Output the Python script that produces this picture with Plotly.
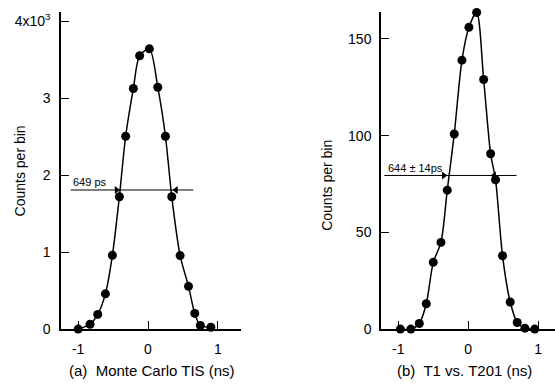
import plotly.graph_objects as go

# Panel (a): Monte Carlo TIS
a_time = [-1.00, -0.83, -0.72, -0.61, -0.51, -0.41, -0.32, -0.21, -0.12, 0.02,
          0.14, 0.25, 0.34, 0.46, 0.58, 0.67, 0.75, 0.90]
a_counts = [0, 64, 191, 458, 959, 1720, 2505, 3125, 3550, 3640,
            3142, 2505, 1720, 955, 556, 204, 47, 25]

# Panel (b): T1 vs. T201
b_time = [-0.97, -0.82, -0.70, -0.60, -0.50, -0.39, -0.30, -0.20, -0.09, 0.01,
          0.12, 0.22, 0.32, 0.39, 0.49, 0.60, 0.70, 0.81, 0.95]
b_counts = [0, 0, 2.9, 13.1, 34.5, 44.8, 71.8, 100.8, 139, 156,
            163.6, 129, 90.6, 77.2, 37.9, 14, 3.4, 0.5, 0]

a_yticks = [0, 1000, 2000, 3000, 4000]
a_yticktext = ["0", "1", "2", "3", "4x10<sup>3</sup>"]
b_yticks = [0, 50, 100, 150]
b_yticktext = ["0", "50", "100", "150"]
xticks = [-1, 0, 1]
xticktext = ["-1", "0", "1"]

# FWHM markers
a_fwhm_level = 1807
a_fwhm_span = [-1.107, 0.649]
a_fwhm_heads = [-0.45, 0.40]
a_fwhm_text = "649 ps"
b_fwhm_level = 79.4
b_fwhm_span = [-1.2, 0.69]
b_fwhm_heads = [-0.35, 0.37]
b_fwhm_text = "644 \u00b1 14ps"

FONT = "Liberation Sans"

fig = go.Figure()
fig.add_trace(go.Scatter(x=a_time, y=a_counts, mode="lines+markers",
                         line=dict(color="black", width=1.5, shape="spline", smoothing=0.8),
                         marker=dict(color="black", size=9),
                         cliponaxis=False, xaxis="x", yaxis="y", showlegend=False))
fig.add_trace(go.Scatter(x=b_time, y=b_counts, mode="lines+markers",
                         line=dict(color="black", width=1.5, shape="spline", smoothing=0.8),
                         marker=dict(color="black", size=9),
                         cliponaxis=False, xaxis="x2", yaxis="y2", showlegend=False))

# FWHM lines with arrowheads
fig.add_trace(go.Scatter(x=a_fwhm_span, y=[a_fwhm_level] * 2, mode="lines",
                         line=dict(color="black", width=1), xaxis="x", yaxis="y",
                         showlegend=False, hoverinfo="skip"))
fig.add_trace(go.Scatter(x=a_fwhm_heads, y=[a_fwhm_level] * 2, mode="markers",
                         marker=dict(color="black", size=7,
                                     symbol=["triangle-right", "triangle-left"]),
                         xaxis="x", yaxis="y", showlegend=False, hoverinfo="skip"))
fig.add_trace(go.Scatter(x=b_fwhm_span, y=[b_fwhm_level] * 2, mode="lines",
                         line=dict(color="black", width=1), xaxis="x2", yaxis="y2",
                         showlegend=False, hoverinfo="skip"))
fig.add_trace(go.Scatter(x=b_fwhm_heads, y=[b_fwhm_level] * 2, mode="markers",
                         marker=dict(color="black", size=7,
                                     symbol=["triangle-right", "triangle-left"]),
                         xaxis="x2", yaxis="y2", showlegend=False, hoverinfo="skip"))

axcommon = dict(showline=True, linecolor="black", linewidth=1.5, ticks="inside",
                ticklen=8, tickwidth=1.2, tickcolor="black", showgrid=False,
                zeroline=False, tickfont=dict(family=FONT, size=14, color="black"))

ytop = 1 - 12 / 391
ybot = 1 - 336 / 391
fig.update_layout(
    width=555, height=391, margin=dict(l=0, r=0, t=0, b=0),
    paper_bgcolor="white", plot_bgcolor="white",
    font=dict(family=FONT, color="black"),
    xaxis=dict(domain=[61 / 555, 241 / 555], range=[-1.246, 1.332], tickvals=xticks,
               ticktext=xticktext, anchor="y", ticklabelstandoff=6, **axcommon),
    yaxis=dict(domain=[ybot, ytop], range=[0, 4122], tickvals=a_yticks,
               ticktext=a_yticktext, anchor="x", ticklabelstandoff=6, **axcommon),
    xaxis2=dict(domain=[381 / 555, 1.0], range=[-1.247, 1.24], tickvals=xticks,
                ticktext=xticktext, anchor="y2", ticklabelstandoff=6, **axcommon),
    yaxis2=dict(domain=[ybot, ytop], range=[0, 164], tickvals=b_yticks,
                ticktext=b_yticktext, anchor="x2", ticklabelstandoff=5, **axcommon),
)

fig.add_annotation(x=-0.826, y=1908, xref="x", yref="y", text=a_fwhm_text,
                   showarrow=False, xanchor="center", yanchor="middle",
                   font=dict(family=FONT, size=11))
fig.add_annotation(x=-0.76, y=83.1, xref="x2", yref="y2", text=b_fwhm_text,
                   showarrow=False, xanchor="center", yanchor="middle",
                   font=dict(family=FONT, size=11))

# Axis titles
fig.add_annotation(x=20 / 555, y=1 - 175 / 391, xref="paper", yref="paper",
                   text="Counts per bin", textangle=-90, showarrow=False,
                   xanchor="center", yanchor="middle",
                   font=dict(family=FONT, size=14))
fig.add_annotation(x=326.7 / 555, y=1 - 189 / 391, xref="paper", yref="paper",
                   text="Counts per bin", textangle=-90, showarrow=False,
                   xanchor="center", yanchor="middle",
                   font=dict(family=FONT, size=14))

# Captions
fig.add_annotation(x=151.5 / 555, y=1 - 378 / 391, xref="paper", yref="paper",
                   text="(a)  Monte Carlo TIS (ns)", showarrow=False,
                   xanchor="center", yanchor="middle",
                   font=dict(family=FONT, size=15))
fig.add_annotation(x=464.5 / 555, y=1 - 378 / 391, xref="paper", yref="paper",
                   text="(b)  T1 vs. T201 (ns)", showarrow=False,
                   xanchor="center", yanchor="middle",
                   font=dict(family=FONT, size=15))

fig.write_html("out.html")
